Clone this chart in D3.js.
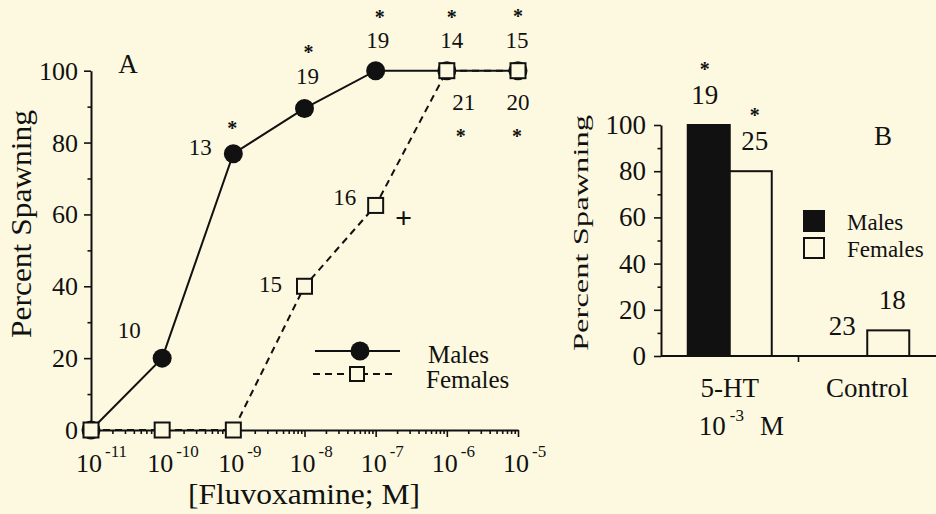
<!DOCTYPE html>
<html>
<head>
<meta charset="utf-8">
<script src="https://cdn.jsdelivr.net/npm/d3@7/dist/d3.min.js"></script>
<style>
  html, body { margin: 0; padding: 0; background: #fdf9e0; }
  svg { display: block; }
</style>
</head>
<body>
<svg id="chart" width="936" height="514"></svg>
<script>
// ---------- Panel A data ----------
const concentrations = [1e-11, 1e-10, 1e-9, 1e-8, 1e-7, 1e-6, 1e-5];
const xTickExponents = ["-11", "-10", "-9", "-8", "-7", "-6", "-5"];
const malesPct   = [0, 20, 76.9, 89.5, 100, 100, 100];
const femalesPct = [0, 0, 0, 40, 62.5, 100, 100];
const malesN     = [null, 10, 13, 19, 19, 14, 15];
const femalesN   = [null, null, null, 15, 16, 21, 20];
const malesSig   = ["", "", "*", "*", "*", "*", "*"];
const femalesSig = ["", "", "", "", "+", "*", "*"];
const yTicksA    = [0, 20, 40, 60, 80, 100];
const yMinorA    = [10, 30, 50, 70, 90];

// ---------- Panel B data ----------
const treatments  = ["5-HT", "Control"];
const bMalesPct   = [100, 0];
const bFemalesPct = [80, 11.1];
const bMalesN     = [19, 23];
const bFemalesN   = [25, 18];
const bMalesSig   = ["*", ""];
const bFemalesSig = ["*", ""];
const yTicksB     = [0, 20, 40, 60, 80, 100];
const yMinorB     = [10, 30, 50, 70, 90];

// ---------- layout (label offsets, px, relative to mark) ----------
const maleNOff   = [null, [-33,-28], [-33,-7], [3,-32], [2,-31], [5,-31], [-1,-31]];
const maleSigOff = [null, null, [-1,-29], [4,-59], [4,-57], [5,-57], [0,-58]];
const femNOff    = [null, null, null, [-34,-2], [-31,-8], [17,31], [0,31]];
const femSigOff  = [null, null, null, null, [28,13], [14,62], [-1,62]];

const FONT = "'Liberation Serif', Tinos, 'Times New Roman', 'DejaVu Serif', 'Noto Serif', serif";
const BG = "#fdf9e0", INK = "#111";
const svg = d3.select("#chart").attr("font-family", FONT);
svg.append("rect").attr("width", 936).attr("height", 514).attr("fill", BG);

// ================= PANEL A =================
const xA = d3.scaleLog().domain([1e-11, 1e-5]).range([91, 518]);
const yA = d3.scaleLinear().domain([0, 100]).range([430, 70.7]);
const gA = svg.append("g");

function styleAxis(g) {
  g.selectAll("path.domain").attr("stroke", INK).attr("stroke-width", 2);
  g.selectAll(".tick line").attr("stroke", INK).attr("stroke-width", 1.6);
  g.selectAll(".tick text").remove();
}
function T(g) { return g.append("text").attr("font-family", FONT).attr("fill", INK); }

// y axis
const yAxA = gA.append("g").attr("transform", "translate(91,0)")
  .call(d3.axisLeft(yA).tickValues(yTicksA).tickSize(7).tickSizeOuter(0));
styleAxis(yAxA);
gA.append("g").attr("transform", "translate(91,0)")
  .call(d3.axisLeft(yA).tickValues(yMinorA).tickSize(3.5).tickSizeOuter(0))
  .call(g => { g.select("path.domain").remove(); styleAxis(g); });
yTicksA.forEach(d => {
  T(gA).attr("x", 78).attr("y", yA(d) + 9).attr("text-anchor", "end")
    .attr("font-size", 26).text(d);
});

// x axis
const xAxA = gA.append("g").attr("transform", "translate(0,430)")
  .call(d3.axisBottom(xA).tickValues(concentrations).tickSize(7).tickSizeOuter(0));
styleAxis(xAxA);
const minorX = [];
concentrations.slice(0, -1).forEach(c => { for (let k = 2; k <= 9; k++) minorX.push(c * k); });
gA.append("g").attr("transform", "translate(0,430)")
  .call(d3.axisBottom(xA).tickValues(minorX).tickSize(4).tickSizeOuter(0))
  .call(g => { g.select("path.domain").remove(); styleAxis(g); });
concentrations.forEach((c, i) => {
  const t = T(gA).attr("x", xA(c) - 15).attr("y", 472).attr("font-size", 26);
  t.append("tspan").text("10");
  t.append("tspan").attr("font-size", 17).attr("dx", 3).attr("dy", -15).text(xTickExponents[i]);
});

// axis titles
T(gA).attr("transform", "translate(31,224) rotate(-90)")
  .attr("text-anchor", "middle").attr("font-size", 29)
  .attr("textLength", 228).attr("lengthAdjust", "spacingAndGlyphs")
  .text("Percent Spawning");
T(gA).attr("x", 304).attr("y", 504).attr("text-anchor", "middle")
  .attr("font-size", 30).attr("textLength", 232).attr("lengthAdjust", "spacingAndGlyphs")
  .text("[Fluvoxamine; M]");
T(gA).attr("x", 128).attr("y", 73).attr("text-anchor", "middle")
  .attr("font-size", 27).text("A");

// lines
const males = concentrations.map((c, i) => ({ c, v: malesPct[i], i }));
const females = concentrations.map((c, i) => ({ c, v: femalesPct[i], i }));
const line = d3.line().x(d => xA(d.c)).y(d => yA(d.v));
gA.append("path").datum(males).attr("d", line).attr("fill", "none")
  .attr("stroke", INK).attr("stroke-width", 2);
gA.append("path").datum(females).attr("d", line).attr("fill", "none")
  .attr("stroke", INK).attr("stroke-width", 2).attr("stroke-dasharray", "7,5");

// markers
gA.selectAll("circle.m").data(males).join("circle").attr("class", "m")
  .attr("cx", d => xA(d.c)).attr("cy", d => yA(d.v)).attr("r", 9.5).attr("fill", INK);
const SQ = 15;
gA.selectAll("rect.f").data(females).join("rect").attr("class", "f")
  .attr("x", d => xA(d.c) - SQ / 2).attr("y", d => yA(d.v) - SQ / 2)
  .attr("width", SQ).attr("height", SQ)
  .attr("fill", BG).attr("stroke", INK).attr("stroke-width", 2);

// sample sizes & significance
function annot(data, nArr, nOff, sArr, sOff) {
  data.forEach((d, i) => {
    const px = xA(d.c), py = yA(d.v);
    if (nArr[i] != null && nOff[i]) {
      T(gA).attr("x", px + nOff[i][0]).attr("y", py + nOff[i][1] + 8)
        .attr("text-anchor", "middle").attr("font-size", 23).text(nArr[i]);
    }
    if (sArr[i] && sOff[i]) {
      const plus = sArr[i] === "+";
      T(gA).attr("x", px + sOff[i][0])
        .attr("y", py + sOff[i][1] + 10)
        .attr("text-anchor", "middle")
        .attr("font-size", plus ? 30 : 20).attr("font-weight", "bold").text(sArr[i]);
    }
  });
}
annot(males, malesN, maleNOff, malesSig, maleSigOff);
annot(females, femalesN, femNOff, femalesSig, femSigOff);

// legend A
const lgA = gA.append("g");
lgA.append("line").attr("x1", 315).attr("x2", 400).attr("y1", 351).attr("y2", 351)
  .attr("stroke", INK).attr("stroke-width", 2);
lgA.append("circle").attr("cx", 360).attr("cy", 351).attr("r", 9.5).attr("fill", INK);
lgA.append("line").attr("x1", 313).attr("x2", 397).attr("y1", 374).attr("y2", 374)
  .attr("stroke", INK).attr("stroke-width", 2).attr("stroke-dasharray", "7,5");
lgA.append("rect").attr("x", 357 - 7).attr("y", 374 - 7).attr("width", 14).attr("height", 14)
  .attr("fill", BG).attr("stroke", INK).attr("stroke-width", 2);
T(lgA).attr("x", 428).attr("y", 363).attr("font-size", 25).text("Males");
T(lgA).attr("x", 426).attr("y", 388).attr("font-size", 25).text("Females");

// ================= PANEL B =================
const xB = d3.scaleBand().domain(treatments).range([661, 936]);
const barW = 42;
const xSex = d3.scaleBand().domain(["Males", "Females"])
  .range([(xB.bandwidth() - 2 * barW) / 2, (xB.bandwidth() + 2 * barW) / 2]);
const yB = d3.scaleLinear().domain([0, 100]).range([356, 125]);
const gB = svg.append("g");

const yAxB = gB.append("g").attr("transform", "translate(661,0)")
  .call(d3.axisLeft(yB).tickValues(yTicksB).tickSize(7).tickSizeOuter(0));
styleAxis(yAxB);
gB.append("g").attr("transform", "translate(661,0)")
  .call(d3.axisLeft(yB).tickValues(yMinorB).tickSize(3.5).tickSizeOuter(0))
  .call(g => { g.select("path.domain").remove(); styleAxis(g); });
yTicksB.forEach(d => {
  T(gB).attr("x", 646).attr("y", yB(d) + 9).attr("text-anchor", "end")
    .attr("font-size", 27).text(d);
});

T(gB).attr("transform", "translate(588,233) rotate(-90)")
  .attr("text-anchor", "middle").attr("font-size", 22)
  .attr("textLength", 236).attr("lengthAdjust", "spacingAndGlyphs")
  .text("Percent Spawning");

const barData = [];
treatments.forEach((t, i) => {
  barData.push({ t, sex: "Males", v: bMalesPct[i], n: bMalesN[i], s: bMalesSig[i] });
  barData.push({ t, sex: "Females", v: bFemalesPct[i], n: bFemalesN[i], s: bFemalesSig[i] });
});
gB.selectAll("rect.bar").data(barData).join("rect").attr("class", "bar")
  .attr("x", d => xB(d.t) + xSex(d.sex)).attr("width", barW)
  .attr("y", d => yB(d.v)).attr("height", d => yB(0) - yB(d.v))
  .attr("fill", d => d.sex === "Males" ? INK : BG)
  .attr("stroke", INK).attr("stroke-width", 2);

// x axis B
gB.append("line").attr("x1", 661).attr("x2", 936).attr("y1", 356).attr("y2", 356)
  .attr("stroke", INK).attr("stroke-width", 2);
gB.append("line").attr("x1", xB("Control")).attr("x2", xB("Control"))
  .attr("y1", 356).attr("y2", 362).attr("stroke", INK).attr("stroke-width", 1.6);

// bar labels
barData.forEach(d => {
  const cx = xB(d.t) + xSex(d.sex) + barW / 2;
  const top = yB(d.v);
  const dx = d.sex === "Males" ? -4 : 4;
  T(gB).attr("x", cx + dx).attr("y", top - 21).attr("text-anchor", "middle")
    .attr("font-size", 27).text(d.n);
  if (d.s) {
    T(gB).attr("x", cx + dx).attr("y", top - 49).attr("text-anchor", "middle")
      .attr("font-size", 20).attr("font-weight", "bold").text(d.s);
  }
});

// category labels
treatments.forEach(d => {
  T(gB).attr("x", xB(d) + xB.bandwidth() / 2).attr("y", 397)
    .attr("text-anchor", "middle").attr("font-size", 27).text(d);
});
const sub = T(gB).attr("x", xB("5-HT") + xB.bandwidth() / 2 - 31).attr("y", 435)
  .attr("font-size", 27);
sub.append("tspan").text("10");
sub.append("tspan").attr("font-size", 17).attr("dx", 4).attr("dy", -14).text("-3");
sub.append("tspan").attr("dx", 16).attr("dy", 14).text("M");

T(gB).attr("x", 883).attr("y", 145).attr("text-anchor", "middle")
  .attr("font-size", 27).text("B");

// legend B
const lgB = gB.append("g");
lgB.append("rect").attr("x", 804).attr("y", 211).attr("width", 20).attr("height", 20)
  .attr("fill", INK).attr("stroke", INK).attr("stroke-width", 2);
lgB.append("rect").attr("x", 804).attr("y", 238).attr("width", 20).attr("height", 20)
  .attr("fill", BG).attr("stroke", INK).attr("stroke-width", 2);
T(lgB).attr("x", 847).attr("y", 230).attr("font-size", 23).text("Males");
T(lgB).attr("x", 847).attr("y", 257).attr("font-size", 23).text("Females");
</script>
</body>
</html>
